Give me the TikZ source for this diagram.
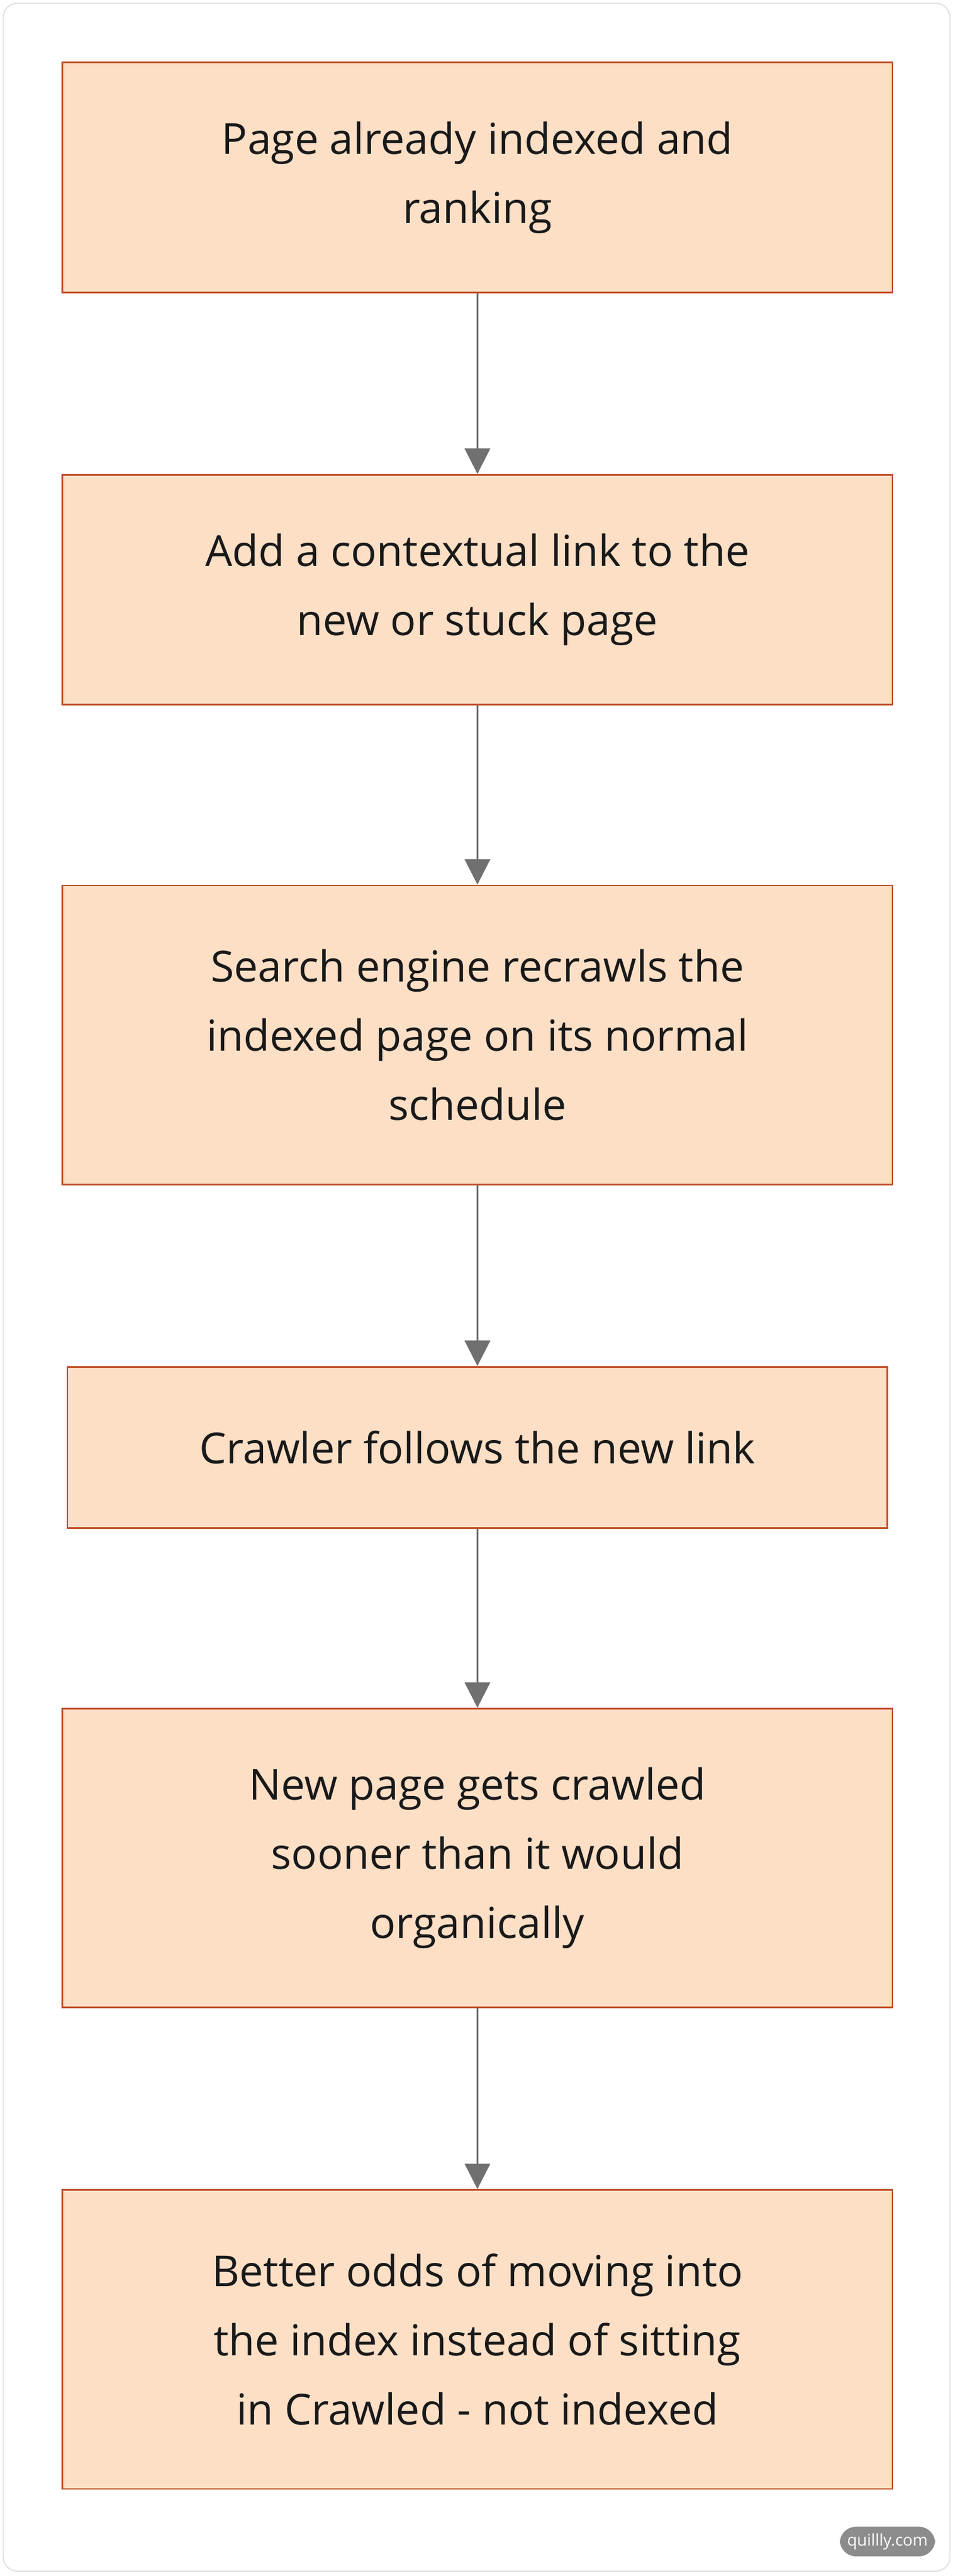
\documentclass[tikz,border=0pt]{standalone}
\usepackage{fontspec}
\setmainfont{Open Sans}
\usetikzlibrary{arrows.meta}
\definecolor{boxfill}{HTML}{FDDFC6}
\definecolor{boxdraw}{HTML}{C0502A}
\definecolor{arr}{HTML}{707070}
\begin{document}
\begin{tikzpicture}[x=0.05cm,y=-0.05cm,
 box/.style={draw=boxdraw,fill=boxfill,line width=1.5pt,align=center,text=black!90,
   font=\fontsize{37}{60}\selectfont,inner sep=0pt},
 link/.style={draw=arr,line width=1.5pt,-{Triangle[length=22pt,width=22pt]}}]
\useasboundingbox (0,0) rectangle (581,1568);
\draw[black!12,line width=1pt,rounded corners=12pt,fill=white] (2,2) rectangle (578,1565);
\node[box,minimum width=505*0.05cm,minimum height=140*0.05cm] (a) at (290.5,108) {Page already indexed and\\ranking};
\node[box,minimum width=505*0.05cm,minimum height=140*0.05cm] (b) at (290.5,359) {Add a contextual link to the\\new or stuck page};
\node[box,minimum width=505*0.05cm,minimum height=182*0.05cm] (c) at (290.5,630) {Search engine recrawls the\\indexed page on its normal\\schedule};
\node[box,minimum width=499*0.05cm,minimum height=98*0.05cm] (d) at (290.5,881) {Crawler follows the new link};
\node[box,minimum width=505*0.05cm,minimum height=182*0.05cm] (e) at (290.5,1131) {New page gets crawled\\sooner than it would\\organically};
\node[box,minimum width=505*0.05cm,minimum height=182*0.05cm] (f) at (290.5,1424) {Better odds of moving into\\the index instead of sitting\\in Crawled - not indexed};
\draw[link] (a) -- (b);
\draw[link] (b) -- (c);
\draw[link] (c) -- (d);
\draw[link] (d) -- (e);
\draw[link] (e) -- (f);
\node[fill=black!45,text=white,rounded corners=14pt,font=\fontsize{14}{16}\selectfont,minimum width=58*0.05cm,minimum height=18*0.05cm,inner sep=0pt] (w) at (540,1547) {quillly.com};
\end{tikzpicture}
\end{document}
